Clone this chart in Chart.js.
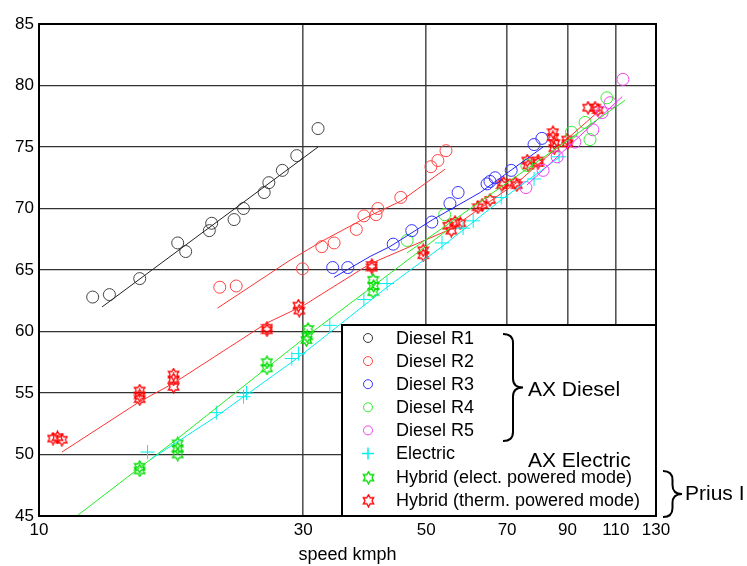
<!DOCTYPE html>
<html>
<head>
<meta charset="utf-8">
<script src="https://cdn.jsdelivr.net/npm/chart.js@4/dist/chart.umd.min.js"></script>
<style>
  body { margin: 0; background: #fff; }
  #wrap { width: 747px; height: 566px; }
</style>
</head>
<body>
<div id="wrap"><canvas id="chart" width="747" height="566"></canvas></div>
<script>
// tick values
const xTicks = [10, 30, 50, 70, 90, 110, 130];

// [speed kmph, level]
const dieselR1 = [[12.5,62.8],[13.4,63.0],[15.2,64.3],[17.8,67.2],[18.4,66.5],[20.3,68.2],[20.5,68.8],[22.5,69.1],[23.4,70.0],[25.5,71.3],[26.0,72.1],[27.5,73.1],[29.2,74.3],[31.9,76.5]];
const dieselR1Fit = [[13.0,62.0],[31.9,75.0]];

const dieselR2 = [[21.2,63.6],[22.7,63.7],[29.9,65.1],[32.4,66.9],[34.1,67.2],[37.4,68.3],[38.6,69.4],[40.6,69.5],[40.9,70.0],[45.0,70.9],[51.0,73.4],[52.5,73.9],[54.3,74.7]];
const dieselR2Fit = [[21.0,61.9],[28.4,65.8],[32.6,67.4],[39.1,69.3],[45.0,70.6],[54.1,73.2]];

const dieselR3 = [[33.9,65.2],[36.1,65.2],[43.6,67.1],[47.1,68.2],[51.2,68.9],[55.2,70.4],[57.1,71.3],[64.4,72.0],[65.2,72.2],[66.6,72.5],[71.2,73.1],[78.3,75.2],[80.9,75.7]];
const dieselR3Fit = [[34.1,64.4],[39.6,66.1],[43.0,66.9],[51.4,69.1],[62.6,71.3],[81.3,75.0]];

const dieselR4 = [[46.2,67.4],[54.0,69.5],[76.0,73.5],[91.5,76.2],[96.8,77.0],[98.8,75.6],[106.0,79.0]];
const dieselR4Fit = [[46.2,66.4],[114.3,78.8]];

const dieselR5 = [[75.7,71.7],[81.3,73.1],[86.2,74.2],[92.8,75.4],[100.0,76.4],[103.9,77.8],[107.4,78.6],[113.3,80.5]];
const dieselR5Fit = [[76.0,71.9],[113.0,79.1]];

const electric = [[15.7,50.2],[20.9,53.4],[23.4,54.7],[23.7,55.0],[28.6,57.8],[29.4,58.2],[33.5,60.5],[38.6,62.6],[42.5,63.9],[53.4,67.2],[58.3,68.4],[60.8,69.0],[68.3,70.9],[78.3,72.4],[86.9,74.2]];
const electricFit = [[15.9,49.6],[20.9,53.1],[29.4,57.9],[42.5,63.6],[53.4,66.9],[68.3,70.7],[87.2,74.2]];

const hybridElec = [[15.2,49.0],[15.2,48.7],[17.8,50.9],[17.8,50.5],[17.8,50.0],[25.8,57.5],[25.8,57.0],[30.6,60.2],[30.5,59.6],[30.4,59.3],[40.1,64.2],[40.2,63.7],[40.1,63.2]];
const hybridElecFit = [[11.7,45.0],[17.8,51.3],[30.6,59.7],[55.2,68.4]];

const hybridTherm = [[10.6,51.3],[10.8,51.4],[11.0,51.2],[15.2,55.2],[15.2,54.8],[15.2,54.5],[17.5,56.5],[17.5,56.1],[17.5,55.5],[25.8,60.3],[25.8,60.1],[29.4,62.1],[29.5,61.7],[39.9,65.4],[39.9,65.2],[49.4,66.6],[49.4,66.2],[54.8,68.6],[55.5,68.2],[56.4,68.9],[57.6,68.8],[62.0,70.1],[63.1,70.3],[65.2,70.7],[68.5,71.9],[69.0,72.1],[72.4,72.1],[72.9,71.9],[76.1,73.9],[76.4,73.5],[79.6,73.9],[79.6,73.7],[84.7,76.2],[84.7,75.8],[85.2,75.3],[85.2,74.9],[89.8,75.6],[90.0,75.3],[98.0,78.2],[100.9,78.2],[102.1,78.0]];
const hybridThermFit = [[11.0,50.2],[15.2,54.3],[17.5,55.8],[25.8,60.7],[30.0,62.1],[39.6,65.5],[55.2,68.3],[73.9,72.3],[103.0,78.0]];

const FONT = '"Liberation Sans", Arial, Helvetica, sans-serif';

function toXY(arr) {
    return arr.map(p => ({ x: p[0], y: p[1] }));
}

// hexagram outline used as marker
function makeStar(color) {
    const c = document.createElement('canvas');
    c.width = 13;
    c.height = 14;
    const g = c.getContext('2d');
    const cx = 6.5, cy = 7, R = 6, r = R / Math.sqrt(3);
    g.strokeStyle = color;
    g.lineWidth = 1.3;
    g.beginPath();
    for (let i = 0; i < 12; i++) {
        const a = -Math.PI / 2 + i * Math.PI / 6;
        const rad = i % 2 ? r : R;
        const px = cx + rad * Math.cos(a), py = cy + rad * Math.sin(a);
        if (i === 0) g.moveTo(px, py); else g.lineTo(px, py);
    }
    g.closePath();
    g.stroke();
    return c;
}

const redStar = makeStar('#ff0000');
const greenStar = makeStar('#00dd00');

function pts(label, data, color, style, radius) {
    return {
        label: label,
        data: toXY(data),
        pointStyle: style,
        pointRadius: radius,
        borderColor: color,
        backgroundColor: 'rgba(0,0,0,0)',
        pointBorderWidth: 1,
        showLine: false
    };
}

function fit(data, color) {
    return {
        label: '',
        data: toXY(data),
        borderColor: color,
        borderWidth: 1,
        pointRadius: 0,
        showLine: true,
        fill: false
    };
}

const legendRows = [
    { text: 'Diesel R1', color: '#333333', style: 'circle' },
    { text: 'Diesel R2', color: '#ff4444', style: 'circle' },
    { text: 'Diesel R3', color: '#3333ff', style: 'circle' },
    { text: 'Diesel R4', color: '#33ee33', style: 'circle' },
    { text: 'Diesel R5', color: '#ee44ee', style: 'circle' },
    { text: 'Electric', color: '#00eeee', style: 'cross' },
    { text: 'Hybrid (elect. powered mode)', color: '#00dd00', style: greenStar },
    { text: 'Hybrid (therm. powered mode)', color: '#ff0000', style: redStar }
];

function brace(ctx, x, yTop, yBot, w) {
    const mid = (yTop + yBot) / 2;
    const xm = x + w / 2;
    ctx.beginPath();
    ctx.moveTo(x, yTop);
    ctx.quadraticCurveTo(xm, yTop, xm, yTop + 9);
    ctx.lineTo(xm, mid - 9);
    ctx.quadraticCurveTo(xm, mid, x + w, mid);
    ctx.quadraticCurveTo(xm, mid, xm, mid + 9);
    ctx.lineTo(xm, yBot - 9);
    ctx.quadraticCurveTo(xm, yBot, x, yBot);
    ctx.stroke();
}

const framePlugin = {
    id: 'frameAndLegend',
    afterDraw(chart) {
        const ctx = chart.ctx;
        const a = chart.chartArea;
        ctx.save();
        // frame
        ctx.strokeStyle = '#000';
        ctx.lineWidth = 2;
        ctx.strokeRect(a.left, a.top, a.right - a.left, a.bottom - a.top);

        // legend box
        const bx = 342, by = 325;
        ctx.fillStyle = '#fff';
        ctx.fillRect(bx, by, a.right - bx, a.bottom - by);
        ctx.strokeRect(bx, by, a.right - bx, a.bottom - by);

        ctx.font = '18px ' + FONT;
        ctx.textBaseline = 'middle';
        ctx.textAlign = 'left';
        legendRows.forEach((row, i) => {
            const y = 338 + i * 23.1;
            const sx = 368;
            ctx.strokeStyle = row.color;
            ctx.lineWidth = 1;
            if (row.style === 'circle') {
                ctx.beginPath();
                ctx.arc(sx, y, 4.5, 0, Math.PI * 2);
                ctx.stroke();
            } else if (row.style === 'cross') {
                ctx.lineWidth = 1.5;
                ctx.beginPath();
                ctx.moveTo(sx - 6, y); ctx.lineTo(sx + 6, y);
                ctx.moveTo(sx, y - 6); ctx.lineTo(sx, y + 6);
                ctx.stroke();
            } else {
                ctx.drawImage(row.style, sx - 6, y - 6);
            }
            ctx.fillStyle = '#000';
            ctx.fillText(row.text, 396, y + 1);
        });

        // group braces and notes
        ctx.strokeStyle = '#000';
        ctx.lineWidth = 2;
        brace(ctx, 503, 334, 441, 20);
        brace(ctx, 663, 471, 517, 19);
        ctx.fillStyle = '#000';
        ctx.font = '21px ' + FONT;
        ctx.fillText('AX Diesel', 528, 390);
        ctx.fillText('AX Electric', 528, 461);
        ctx.fillText('Prius I', 685, 494);
        ctx.restore();
    }
};

const ctx = document.getElementById('chart').getContext('2d');
const chart = new Chart(ctx, {
    type: 'scatter',
    data: {
        datasets: [
            fit(dieselR1Fit, '#222222'),
            fit(dieselR2Fit, '#ff3333'),
            fit(dieselR3Fit, '#2222ff'),
            fit(dieselR4Fit, '#22ee22'),
            fit(dieselR5Fit, '#ff22ff'),
            fit(electricFit, '#00eeee'),
            fit(hybridElecFit, '#22ee22'),
            fit(hybridThermFit, '#ff3333'),
            pts('Diesel R1', dieselR1, '#444444', 'circle', 6),
            pts('Diesel R2', dieselR2, '#ff4444', 'circle', 6),
            pts('Diesel R3', dieselR3, '#3333ff', 'circle', 6),
            pts('Diesel R4', dieselR4, '#33ee33', 'circle', 6),
            pts('Diesel R5', dieselR5, '#ee44ee', 'circle', 6),
            pts('Electric', electric, '#00eeee', 'cross', 7),
            pts('Hybrid (elect. powered mode)', hybridElec, '#00dd00', greenStar, 6),
            pts('Hybrid (therm. powered mode)', hybridTherm, '#ff0000', redStar, 6)
        ]
    },
    options: {
        responsive: false,
        animation: false,
        layout: { padding: { top: 24, right: 91, left: 0, bottom: 0 } },
        plugins: {
            legend: { display: false },
            tooltip: { enabled: false }
        },
        scales: {
            x: {
                type: 'logarithmic',
                min: 10,
                max: 130,
                afterBuildTicks: axis => { axis.ticks = xTicks.map(v => ({ value: v })); },
                afterFit: s => { s.height = 50; },
                ticks: {
                    autoSkip: false,
                    maxRotation: 0,
                    padding: 4,
                    color: '#000',
                    font: { family: FONT, size: 17 },
                    callback: v => v
                },
                grid: { color: '#555', lineWidth: 1.6, drawTicks: false },
                border: { display: false },
                title: {
                    display: true,
                    text: 'speed kmph',
                    color: '#000',
                    font: { family: FONT, size: 18 },
                    padding: { top: 0, bottom: 0 }
                }
            },
            y: {
                min: 45,
                max: 85,
                afterFit: s => { s.width = 39; },
                ticks: {
                    stepSize: 5,
                    padding: 5,
                    color: '#000',
                    font: { family: FONT, size: 17 }
                },
                grid: { color: '#333', lineWidth: 1.3, drawTicks: false },
                border: { display: false }
            }
        }
    },
    plugins: [framePlugin]
});
</script>
</body>
</html>
